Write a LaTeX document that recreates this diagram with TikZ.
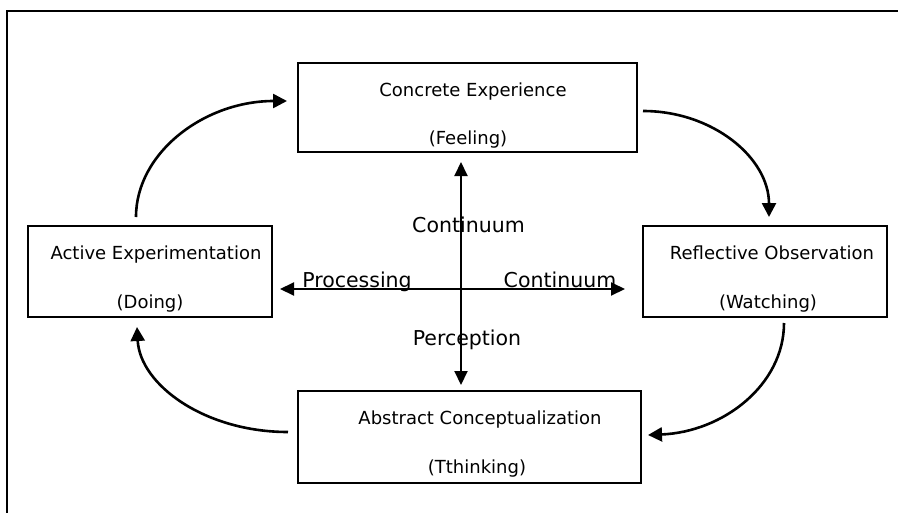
\documentclass[tikz,border=0pt]{standalone}
\usepackage{fontspec}
\setmainfont{DejaVu Sans}
\usepackage{tikz}
\usetikzlibrary{arrows.meta,calc}

\tikzset{
    box/.style={draw, line width=2pt, rectangle, inner sep=0pt},
    boxtext/.style={anchor=base, inner sep=0pt, font=\fontsize{18}{20}\selectfont},
    axistext/.style={anchor=base, inner sep=0pt, font=\fontsize{20.5}{24}\selectfont},
    axis/.style={line width=2pt, {Triangle[length=14pt,width=13pt]}-{Triangle[length=14pt,width=13pt]}},
    cyclearrow/.style={line width=2.6pt, -{Triangle[length=14pt,width=14pt]}}
}

\begin{document}
\begin{tikzpicture}[x=1pt,y=-1pt]
    \clip (0,0) rectangle (898,512);
    %%frame
    \draw[line width=2pt] (7,11) rectangle (920,530);
    %%stages
    \node[box, minimum width=339pt, minimum height=89pt] (ce) at (467.5,107.5) {};
    \node[box, minimum width=244pt, minimum height=91pt] (ro) at (765,271.5) {};
    \node[box, minimum width=343pt, minimum height=92pt] (ac) at (469.5,437) {};
    \node[box, minimum width=244pt, minimum height=91pt] (ae) at (150,271.5) {};
    \node[boxtext] (ceA) at (473,96) {Concrete Experience};
    \node[boxtext] (ceB) at (468,144) {(Feeling)};
    \node[boxtext] (roA) at (772,259) {Reflective Observation};
    \node[boxtext] (roB) at (768,308) {(Watching)};
    \node[boxtext] (acA) at (480,424) {Abstract Conceptualization};
    \node[boxtext] (acB) at (477,473) {(Tthinking)};
    \node[boxtext] (aeA) at (156,259) {Active Experimentation};
    \node[boxtext] (aeB) at (150,308) {(Doing)};
    %%axes
    \coordinate (ptop) at (461,162);
    \coordinate (pbot) at (461,385);
    \coordinate (pleft) at (280,289);
    \coordinate (pright) at (625,289);
    \draw[axis] (pbot) -- (ptop);
    \draw[axis] (pleft) -- (pright);
    \node[axistext] (percA) at (468.5,232) {Continuum};
    \node[axistext] (percB) at (467,345) {Perception};
    \node[axistext] (procA) at (357,287) {Processing};
    \node[axistext] (procB) at (560,287) {Continuum};
    %%cycle
    \coordinate (aeOut) at (136,217);
    \coordinate (ceIn) at (287,101);
    \coordinate (ceOut) at (643,111);
    \coordinate (roIn) at (769,217);
    \coordinate (roOut) at (784,323);
    \coordinate (acIn) at (648,435);
    \coordinate (acOut) at (288,432);
    \coordinate (aeIn) at (137,327);
    \draw[cyclearrow] (aeOut) .. controls (136,153) and (204,101) .. (ceIn);
    \draw[cyclearrow] (ceOut) .. controls (713,111) and (769,158) .. (roIn);
    \draw[cyclearrow] (roOut) .. controls (784,385) and (723,432) .. (acIn);
    \draw[cyclearrow] (acOut) .. controls (205,432) and (140,385) .. (aeIn);
\end{tikzpicture}
\end{document}
